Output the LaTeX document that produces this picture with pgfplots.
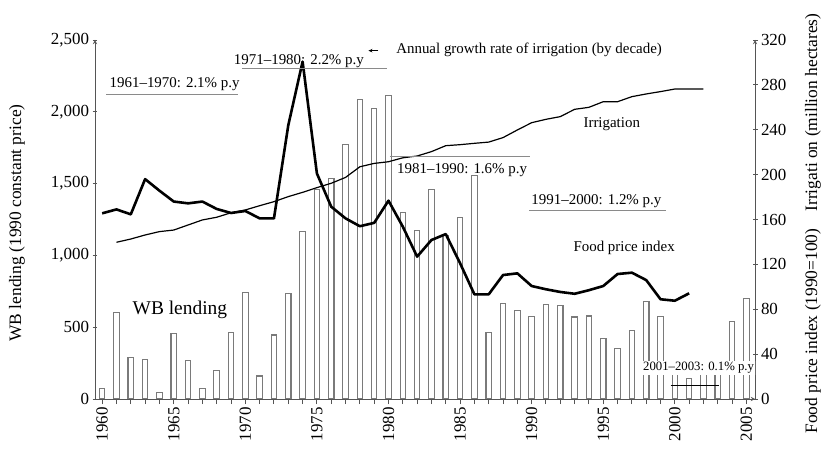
\documentclass[border=0pt]{standalone}
\usepackage{fontspec}
\setmainfont{Liberation Serif}
\usepackage{pgfplots}
\usepackage{pgfplotstable}
\pgfplotsset{compat=1.18}
\usetikzlibrary{arrows.meta}

\definecolor{axgray}{HTML}{555555}
\definecolor{bargray}{HTML}{7A7A7A}
\definecolor{decgray}{HTML}{8A8A8A}
\newcommand{\fs}[1]{\fontsize{#1}{#1}\selectfont}

% WB lending, 1990 constant price
\pgfplotstableread{
year lend
1960 70
1961 600
1962 287
1963 273
1964 45
1965 457
1966 265
1967 74
1968 197
1969 464
1970 740
1971 160
1972 446
1973 733
1974 1165
1975 1460
1976 1538
1977 1771
1978 2087
1979 2022
1980 2112
1981 1297
1982 1172
1983 1460
1984 1140
1985 1265
1986 1555
1987 464
1988 668
1989 618
1990 573
1991 660
1992 652
1993 571
1994 578
1995 423
1996 353
1997 480
1998 678
1999 573
2000 240
2001 145
2002 240
2003 240
2004 538
2005 699
}\lending

% food price index (1990=100)
\pgfplotstableread{
year fpi
1960 165.5
1961 169
1962 164.6
1963 196
1964 185.7
1965 176
1966 174.4
1967 176
1968 169.4
1969 165.8
1970 167.6
1971 161
1972 161
1973 244
1974 300.7
1975 201
1976 171.4
1977 161
1978 154
1979 157
1980 176.8
1981 153.6
1982 126.9
1983 141.7
1984 147
1985 121
1986 93.3
1987 93.3
1988 110.5
1989 112
1990 100.7
1991 97.8
1992 95.4
1993 93.8
1994 97
1995 100.7
1996 111.4
1997 112.6
1998 106
1999 88.9
2000 87.6
2001 94.2
}\food

% irrigated area, million hectares
\pgfplotstableread{
year irr
1961 139.7
1962 142.6
1963 146.2
1964 149.2
1965 150.6
1966 155.1
1967 159.6
1968 162
1969 166
1970 168.5
1971 172.3
1972 175.9
1973 180.4
1974 184.2
1975 188.4
1976 192.3
1977 197.5
1978 207
1979 210
1980 211.5
1981 215
1982 216.6
1983 220.5
1984 225.8
1985 226.7
1986 227.9
1987 229
1988 233
1989 239.8
1990 246.3
1991 249.3
1992 251.7
1993 258.2
1994 260
1995 265
1996 265
1997 269.5
1998 271.9
1999 274
2000 276.3
2001 276.3
2002 276.3
}\irrig

\pgfplotsset{
  base/.style={
    at={(95bp,53bp)}, anchor=south west,
    scale only axis, width=660bp, height=359bp,
    xmin=1959.5, xmax=2005.6,
    axis line style={axgray, line width=0.9bp, -},
    tick style={axgray, line width=0.9bp},
    tick align=outside,
    major tick length=5bp, minor tick length=5bp,
    /pgf/number format/assume math mode=true,
    tick label style={font=\fs{17}},
  },
}
\tikzset{
  dec/.style={decgray, line width=1.5bp},
  ann/.style={font=\fs{15}, inner sep=0pt, anchor=base west},
}

\begin{document}
\begin{tikzpicture}
\path[use as bounding box] (0,0) rectangle (822bp,452bp);

\begin{axis}[base,
  axis x line=bottom, axis y line=left,
  ymin=0, ymax=2500, ytick={0,500,...,2500},
  yticklabel style={/pgf/number format/1000 sep={,}},
  xtick={1960,1965,...,2005}, minor xtick={1960,...,2005},
  xticklabel style={rotate=90, anchor=east,
    /pgf/number format/1000 sep={}},
  ybar, bar width=5.5bp,
]
\addplot[draw=bargray, fill=white, line width=1.1bp]
  table[x=year, y=lend] {\lending};
\end{axis}

\begin{axis}[base,
  axis x line=none, axis y line=right,
  ymin=0, ymax=320, ytick={0,40,...,320},
]
\addplot[black, line width=1.2bp] table[x=year, y=irr] {\irrig};
\addplot[black, line width=2.6bp, line join=round]
  table[x=year, y=fpi] {\food};

% decade growth rates
\draw[dec] (axis cs:1960.30,271.6) -- (axis cs:1969.47,271.6);
\node[ann] at (axis cs:1960.51,278.1) {1961--1970: 2.1\% p.y};
\draw[dec] (axis cs:1969.75,294.8) -- (axis cs:1979.89,294.8);
\node[ann] at (axis cs:1969.19,298.6) {1971--1980: 2.2\% p.y};
\draw[black, line width=0.8bp, -{Stealth[length=4bp,width=3.5bp]}]
  (axis cs:1979.30,310.5) -- (axis cs:1978.60,310.5);
\node[ann] at (axis cs:1980.53,308.2)
  {Annual growth rate of irrigation (by decade)};
\draw[dec] (axis cs:1980.10,216.3) -- (axis cs:1989.90,216.3);
\node[ann] at (axis cs:1980.59,201.2) {1981--1990: 1.6\% p.y};
\draw[dec] (axis cs:1989.83,167.9) -- (axis cs:1999.35,167.9);
\node[ann] at (axis cs:1989.97,173.8) {1991--2000: 1.2\% p.y};

\node[ann] at (axis cs:1993.61,242.2) {Irrigation};
\node[ann] at (axis cs:1992.91,131.3) {Food price index};
\node[ann, font=\fs{19.5}] at (axis cs:1962.12,75.5) {WB lending};

\node[ann, font=\fs{12.8}, fill=white, inner xsep=1.5bp, inner ysep=1.5bp]
  at (axis cs:1997.67,25.2) {2001--2003: 0.1\% p.y};
\draw[black, line width=0.9bp] (axis cs:1999.70,12.5) -- (axis cs:2003.06,12.5);
\end{axis}

% axis titles
\node[rotate=90, anchor=base, font=\fs{17.5}] at (21bp,229bp)
  {WB lending (1990 constant price)};
\node[rotate=90, anchor=base, font=\fs{17.5}] at (817bp,339.5bp)
  {Irrigati on (million hectares)};
\node[rotate=90, anchor=base, font=\fs{17.5}] at (817bp,121bp)
  {Food price index (1990=100)};
\end{tikzpicture}
\end{document}
